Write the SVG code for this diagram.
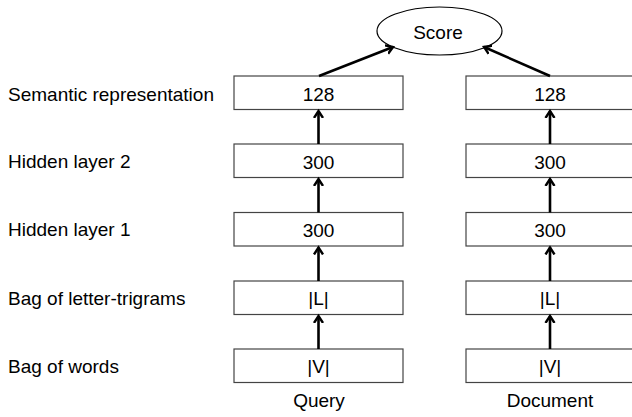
<svg xmlns="http://www.w3.org/2000/svg" width="632" height="417" viewBox="0 0 632 417">
<defs>
<style>
text{font-family:"Liberation Sans",Arial,sans-serif;font-size:19px;fill:#000}
.c{text-anchor:middle}
.box{fill:#fff;stroke:#444;stroke-width:1.2}
.conn{stroke:#000;stroke-width:2.6;fill:none;marker-end:url(#ah)}
</style>
<marker id="ah" markerUnits="userSpaceOnUse" markerWidth="14" markerHeight="14" refX="0" refY="0" viewBox="-7 -7 14 14" orient="auto">
<path d="M-7,-4.5 L0,0 L-7,4.5" fill="none" stroke="#000" stroke-width="2.4"/>
</marker>
</defs>
<rect width="632" height="417" fill="#fff"/>
<g id="labels">
<text x="8" y="101">Semantic representation</text>
<text x="8" y="168">Hidden layer 2</text>
<text x="8" y="236">Hidden layer 1</text>
<text x="8" y="305">Bag of letter-trigrams</text>
<text x="8" y="373">Bag of words</text>
</g>
<g id="score"><ellipse cx="439.5" cy="31" rx="62.5" ry="24" fill="#fff" stroke="#000" stroke-width="1.2"/><text class="c" x="438" y="39">Score</text></g>
<g id="q-sem"><rect class="box" x="234" y="76" width="169" height="33.5"/><text class="c" x="318.5" y="101">128</text></g>
<g id="q-h2"><rect class="box" x="234" y="144" width="169" height="33.5"/><text class="c" x="318.5" y="169">300</text></g>
<g id="q-h1"><rect class="box" x="234" y="212.5" width="169" height="33.5"/><text class="c" x="318.5" y="237">300</text></g>
<g id="q-lt"><rect class="box" x="234" y="281" width="169" height="33.5"/><text class="c" x="318.5" y="305">|L|</text></g>
<g id="q-bow"><rect class="box" x="234" y="349" width="169" height="33.5"/><text class="c" x="318.5" y="373">|V|</text></g>
<g id="d-sem"><rect class="box" x="466" y="76" width="169" height="33.5"/><text class="c" x="550" y="101">128</text></g>
<g id="d-h2"><rect class="box" x="466" y="144" width="169" height="33.5"/><text class="c" x="550" y="169">300</text></g>
<g id="d-h1"><rect class="box" x="466" y="212.5" width="169" height="33.5"/><text class="c" x="550" y="237">300</text></g>
<g id="d-lt"><rect class="box" x="466" y="281" width="169" height="33.5"/><text class="c" x="550" y="305">|L|</text></g>
<g id="d-bow"><rect class="box" x="466" y="349" width="169" height="33.5"/><text class="c" x="550" y="373">|V|</text></g>
<g id="captions">
<text class="c" x="319" y="407">Query</text>
<text class="c" x="550" y="407">Document</text>
</g>
<g id="connectors">
<line class="conn" x1="319" y1="76" x2="393" y2="47"/>
<line class="conn" x1="550" y1="76" x2="484" y2="47"/>
<line class="conn" x1="318.5" y1="144" x2="318.5" y2="111"/>
<line class="conn" x1="318.5" y1="212.5" x2="318.5" y2="179"/>
<line class="conn" x1="318.5" y1="281" x2="318.5" y2="247.5"/>
<line class="conn" x1="318.5" y1="349" x2="318.5" y2="316"/>
<line class="conn" x1="550" y1="144" x2="550" y2="111"/>
<line class="conn" x1="550" y1="212.5" x2="550" y2="179"/>
<line class="conn" x1="550" y1="281" x2="550" y2="247.5"/>
<line class="conn" x1="550" y1="349" x2="550" y2="316"/>
</g>
</svg>
